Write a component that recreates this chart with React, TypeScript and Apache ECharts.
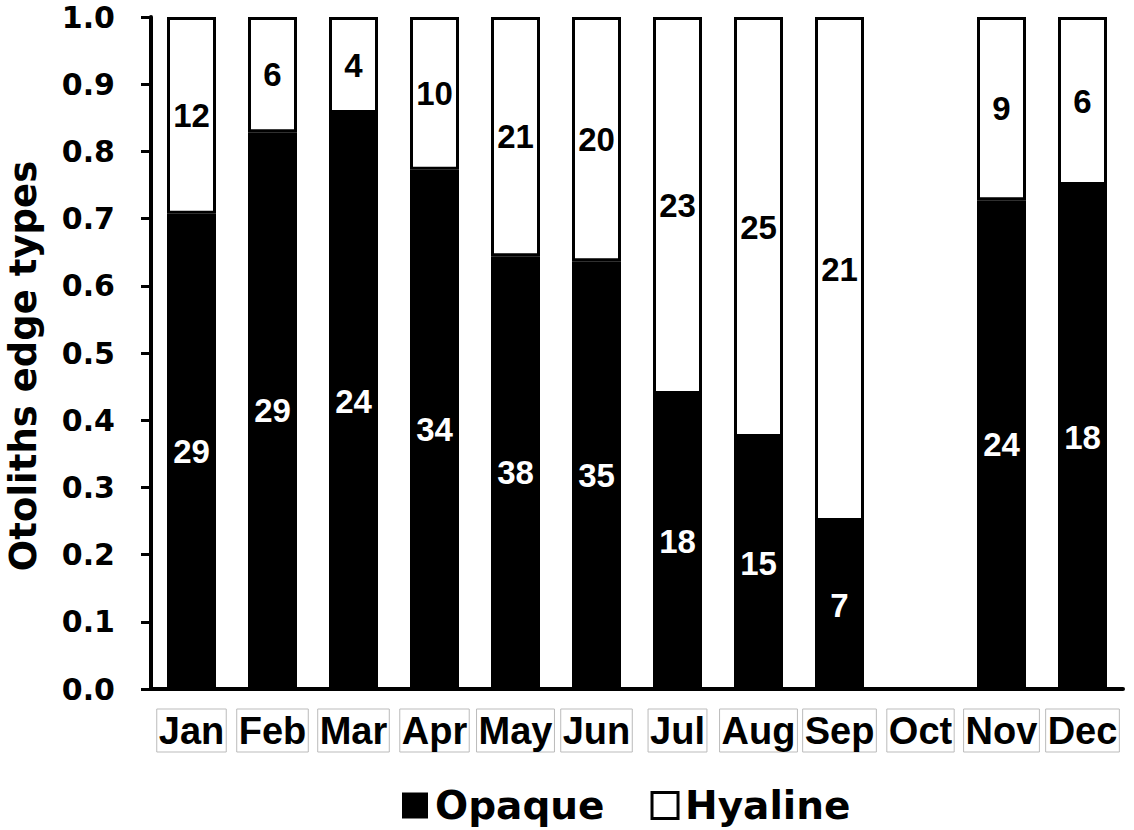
import React, { useEffect, useRef } from "react";
import * as echarts from "echarts";

const months = ["Jan", "Feb", "Mar", "Apr", "May", "Jun", "Jul", "Aug", "Sep", "Oct", "Nov", "Dec"];
const opaqueCounts: (number | null)[] = [29, 29, 24, 34, 38, 35, 18, 15, 7, null, 24, 18];
const hyalineCounts: (number | null)[] = [12, 6, 4, 10, 21, 20, 23, 25, 21, null, 9, 6];
const yTicks = [0, 0.1, 0.2, 0.3, 0.4, 0.5, 0.6, 0.7, 0.8, 0.9, 1.0];
const yTitle = "Otoliths edge types";

const DEJAVU = "'DejaVu Sans', sans-serif";
const ARIAL = "'Liberation Sans', Arial, sans-serif";

function share(a: number | null, b: number | null, which: "a" | "b") {
  if (a == null || b == null) return null;
  const t = a + b;
  return which === "a" ? a / t : b / t;
}

export default function App() {
  const ref = useRef<HTMLDivElement>(null);
  useEffect(() => {
    if (!ref.current) return;
    const chart = echarts.init(ref.current, null, { renderer: "svg" });
    const opaqueData = months.map((m, i) => ({
      value: share(opaqueCounts[i], hyalineCounts[i], "a"),
      count: opaqueCounts[i],
    }));
    const hyalineData = months.map((m, i) => ({
      value: share(opaqueCounts[i], hyalineCounts[i], "b"),
      count: hyalineCounts[i],
    }));
    chart.setOption({
      animation: false,
      backgroundColor: "#fff",
      grid: { left: 151, right: 11, top: 17, bottom: 141 },
      graphic: [
        {
          type: "text",
          x: 23,
          y: 366,
          rotation: Math.PI / 2,
          style: {
            text: yTitle,
            fill: "#000",
            font: `bold 37px ${DEJAVU}`,
            textAlign: "center",
            textVerticalAlign: "middle",
          },
        },
      ],
      legend: {
        left: 397,
        top: 781,
        itemWidth: 26,
        itemHeight: 26,
        itemGap: 46,
        icon: "rect",
        textStyle: { fontFamily: DEJAVU, fontWeight: "bold", fontSize: 39, color: "#000", padding: [0, 0, 0, 2] },
        data: [
          { name: "Opaque", itemStyle: { color: "#000", borderColor: "#000", borderWidth: 0 } },
          { name: "Hyaline", itemStyle: { color: "#fff", borderColor: "#000", borderWidth: 3 } },
        ],
      },
      xAxis: {
        type: "category",
        data: months,
        axisLine: { lineStyle: { color: "#000", width: 4 } },
        axisTick: { length: 9, lineStyle: { color: "#000", width: 4 } },
        axisLabel: {
          interval: 0,
          margin: 20,
          fontFamily: ARIAL,
          fontWeight: "bold",
          fontSize: 38,
          color: "#000",
          borderColor: "#bbb",
          borderWidth: 1,
          padding: [2, 2, 1, 2],
          lineHeight: 40,
        },
      },
      yAxis: {
        type: "value",
        min: 0,
        max: 1,
        interval: 0.1,
        splitLine: { show: false },
        axisLine: { show: true, lineStyle: { color: "#000", width: 4 } },
        axisTick: { show: true, length: 10, lineStyle: { color: "#000", width: 3 } },
        axisLabel: {
          margin: 36,
          fontFamily: DEJAVU,
          fontWeight: "bold",
          fontSize: 30,
          color: "#000",
          formatter: (v: number) => {
            const t = yTicks.find((x) => Math.abs(x - v) < 1e-6);
            return (t ?? v).toFixed(1);
          },
        },
      },
      series: [
        {
          name: "Opaque",
          type: "bar",
          stack: "all",
          barWidth: 49,
          data: opaqueData,
          itemStyle: { color: "#000", borderColor: "#000", borderWidth: 3 },
          label: {
            show: true,
            position: "inside",
            color: "#fff",
            fontFamily: ARIAL,
            fontWeight: "bold",
            fontSize: 33,
            formatter: (p: any) => (p.data.count == null ? "" : String(p.data.count)),
          },
        },
        {
          name: "Hyaline",
          type: "bar",
          stack: "all",
          barWidth: 49,
          data: hyalineData,
          itemStyle: { color: "#fff", borderColor: "#000", borderWidth: 3 },
          label: {
            show: true,
            position: "inside",
            color: "#000",
            fontFamily: ARIAL,
            fontWeight: "bold",
            fontSize: 33,
            formatter: (p: any) => (p.data.count == null ? "" : String(p.data.count)),
          },
        },
      ],
    });
    return () => chart.dispose();
  }, []);
  return <div ref={ref} style={{ width: 1134, height: 830, position: "absolute", left: 0, top: 0 }} />;
}
